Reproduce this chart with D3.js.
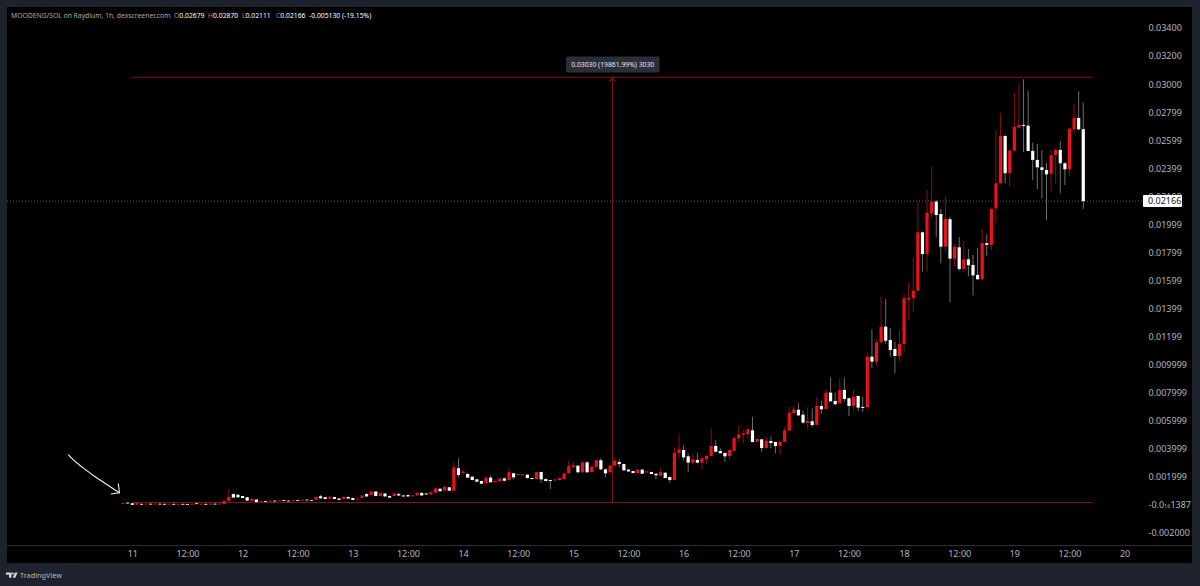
<!DOCTYPE html>
<html><head><meta charset="utf-8">
<script src="https://cdn.jsdelivr.net/npm/d3@7"></script>
<style>html,body{margin:0;padding:0;background:#1e222d;overflow:hidden}svg{display:block}text{font-family:"Noto Sans",sans-serif}</style>
</head><body><svg id="c" width="1200" height="586"></svg>
<script>
// Prices are in units of 0.00001 SOL; hour 0 is the 11th at 00:00.
const priceUnit = 1e-5, firstHour = -2;
const opens = [9,17,12,2,8,7,9,7,9,8,
6,8,6,8,7,5,12,7,8,7,
9,8,7,29,78,73,64,55,29,39,
24,28,25,31,29,34,31,29,35,32,
38,34,36,62,55,45,57,46,43,57,
50,43,50,78,71,96,64,82,64,64,
78,68,71,64,68,86,82,75,88,116,
102,126,102,262,228,221,202,183,171,155,
195,162,169,190,178,226,214,212,216,192,
185,235,185,178,175,178,185,226,269,280,
233,304,235,271,319,254,233,280,306,292,
253,242,228,252,232,235,223,209,230,200,
178,369,392,347,302,321,302,326,349,421,
385,371,349,385,475,501,506,532,451,468,
406,456,449,421,449,530,654,679,644,585,
597,570,706,684,801,741,725,820,761,706,
777,699,696,1057,1022,1160,1271,1176,1112,1062,
1148,1465,1474,1528,1944,1789,2079,2162,2074,1841,
2037,1756,1837,1682,1751,1711,1640,1609,1866,1854,
2115,2293,2630,2365,2526,2690,2709,2704,2524,2460,
2407,2388,2360,2493,2531,2436,2393,2678,2759,2679];
const closes = [14,11,1,14,6,9,7,9,7,6,
8,6,8,6,5,8,7,8,7,9,
8,10,29,57,53,55,50,31,43,21,
28,25,31,29,34,31,29,35,32,38,
34,31,57,48,43,59,43,36,57,46,
36,46,68,61,96,64,86,61,53,82,
68,61,61,68,86,68,75,93,119,98,
130,102,269,214,239,195,178,166,152,195,
162,171,190,173,235,197,221,219,192,185,
235,183,171,171,182,192,226,278,283,233,
304,233,273,319,254,226,280,314,292,247,
239,228,252,223,239,221,212,235,192,178,
373,397,340,302,326,302,333,351,421,380,
369,347,392,478,504,511,540,449,470,406,
458,442,421,451,532,658,682,639,587,599,
570,706,682,801,739,718,820,756,706,772,
694,692,1057,1022,1160,1271,1171,1105,1062,1148,
1474,1476,1528,1944,1789,2084,2162,2067,1841,2039,
1756,1841,1682,1751,1709,1637,1609,1866,1854,2110,
2293,2630,2365,2526,2697,2709,2702,2524,2460,2407,
2388,2357,2493,2531,2436,2393,2682,2759,2678,2166];
const highs = [16,18,13,15,10,11,11,11,11,10,
10,10,10,10,9,10,14,10,10,11,
11,12,30,114,82,78,66,57,46,41,
30,30,33,33,36,36,33,37,37,40,
40,36,60,72,58,61,60,48,64,66,
52,48,72,85,99,98,89,85,68,86,
88,71,74,71,90,92,84,95,122,119,
132,128,302,334,254,228,204,185,175,205,
210,173,192,195,264,230,224,221,219,195,
238,238,190,180,183,195,228,316,310,285,
310,310,278,325,335,260,283,332,325,295,
255,245,254,255,242,238,226,259,233,202,
411,503,424,369,360,373,335,355,545,460,
404,375,395,485,563,535,548,629,473,471,
487,487,452,454,558,700,706,725,672,696,
688,768,744,825,910,801,903,910,764,820,
780,772,1086,1252,1183,1484,1470,1260,1165,1241,
1510,1585,1759,2165,1950,2246,2412,2176,2110,2199,
2055,1860,1911,1880,1823,1782,1830,1967,1930,2120,
2673,2795,2640,2535,2935,3006,3035,2954,2583,2574,
2531,2438,2531,2540,2595,2445,2690,2862,2949,2870];
const lows = [8,10,0,1,5,6,6,6,6,5,
5,5,5,5,4,4,6,6,6,6,
7,7,5,28,50,52,48,29,27,20,
23,24,24,28,28,30,28,28,31,31,
33,30,33,45,40,43,40,33,40,43,
34,41,48,59,69,62,61,59,50,61,
66,59,59,61,66,66,73,73,86,96,
100,100,100,198,216,192,176,164,150,150,
160,160,166,171,176,183,212,210,190,183,
183,157,169,114,173,176,183,224,266,230,
230,230,233,269,250,197,230,278,271,245,
237,226,226,221,230,219,183,207,190,157,
176,330,316,237,290,297,250,293,347,377,
367,307,326,383,449,435,473,447,449,376,
404,404,369,358,447,528,652,635,580,540,
554,568,652,682,737,716,722,737,634,672,
670,664,694,975,990,1150,1150,1057,939,1022,
1093,1318,1379,1520,1663,1664,2043,1911,1722,1810,
1445,1699,1670,1660,1632,1494,1605,1600,1775,1818,
2008,2285,2293,2267,2515,2680,2515,2520,2317,2252,
2186,2032,2233,2293,2222,2281,2345,2643,2670,2111];

const priceTicks = [0.034,0.032,0.03,0.028,0.026,0.024,0.022,0.02,0.018,0.016,0.014,0.012,0.01,0.008,0.006,0.004,0.002,0,-0.002];
const priceLabels = ["0.03400","0.03200","0.03000","0.02799","0.02599","0.02399","0.02199","0.01999","0.01799","0.01599","0.01399","0.01199","0.009999","0.007999","0.005999","0.003999","0.001999","-0.0|16|1387","-0.002000"];
const timeTicks = [0,12,24,36,48,60,72,84,96,108,120,132,144,156,168,180,192,204,216];
const timeLabels = ["11","12:00","12","12:00","13","12:00","14","12:00","15","12:00","16","12:00","17","12:00","18","12:00","19","12:00","20"];
const lastPrice = 0.02166, lastLabel = "0.02166";
const measureHigh = 0.03049, measureLow = 0.00018, measureHour = 104.5, measureStart = 0, measureEnd = 209.2;
const measureText = "0.03030 (19861.99%) 3030";
const titleText = "MOODENG/SOL on Raydium, 1h, dexscreener.com";
const ohlcLabels = [["O","0.02679"],["H","0.02870"],["L","0.02111"],["C","0.02166"]];
const changeText = "-0.005130 (-19.15%)";

const W=1200,H=586, plotL=7,plotR=1192,plotT=7,plotB=563,axisY=545;
const svg=d3.select("#c");
const x=d3.scaleLinear().domain([0,216]).range([132.3,1124.6]);
const y=d3.scaleLinear().domain([-0.002,0.034]).range([533.06,28]);

svg.append("rect").attr("width",W).attr("height",H).attr("fill","#1e222d");
svg.append("rect").attr("x",plotL).attr("y",plotT).attr("width",plotR-plotL).attr("height",plotB-plotT).attr("fill","#000");

// Last price line
svg.append("line").attr("x1",plotL).attr("x2",1143).attr("y1",y(lastPrice)).attr("y2",y(lastPrice))
  .attr("stroke","#777").attr("stroke-width",.8).attr("stroke-dasharray","1 2");

// Candles
const candles=d3.range(opens.length).map(i=>({h:firstHour+i,o:opens[i]*priceUnit,c:closes[i]*priceUnit,hi:highs[i]*priceUnit,lo:lows[i]*priceUnit}));
const up=d=>d.c>=d.o;

// Measure lines
const mc="#8a0f18";
const mg=svg.append("g").attr("stroke",mc).attr("stroke-width",1.1).attr("fill","none");
mg.append("line").attr("x1",x(measureStart)).attr("x2",x(measureEnd)).attr("y1",y(measureHigh)).attr("y2",y(measureHigh));
mg.append("line").attr("x1",x(measureStart)).attr("x2",x(measureEnd)).attr("y1",y(measureLow)).attr("y2",y(measureLow));
mg.append("line").attr("x1",x(measureHour)).attr("x2",x(measureHour)).attr("y1",y(measureHigh)).attr("y2",y(measureLow));
mg.append("path").attr("d",`M${x(measureHour)-3},${y(measureHigh)+4}L${x(measureHour)},${y(measureHigh)+1}L${x(measureHour)+3},${y(measureHigh)+4}`);

const cg=svg.append("g");
cg.selectAll("line").data(candles).join("line")
  .attr("x1",d=>x(d.h)).attr("x2",d=>x(d.h)).attr("y1",d=>y(d.hi)).attr("y2",d=>y(d.lo))
  .attr("stroke",d=>up(d)?"#8a0f18":"#6e6e6e").attr("stroke-width",1);
cg.selectAll("rect").data(candles).join("rect")
  .attr("x",d=>x(d.h)-1.6).attr("width",3.2)
  .attr("y",d=>Math.min(y(d.o),y(d.c)))
  .attr("height",d=>Math.max(.8,Math.abs(y(d.o)-y(d.c))))
  .attr("fill",d=>up(d)?"#ee0f1f":"#ffffff");

// Measure badge
svg.append("rect").attr("x",566).attr("y",56.5).attr("width",93.5).attr("height",16).attr("rx",2).attr("fill","#2a2e39");
svg.append("text").attr("x",612.7).attr("y",67).attr("text-anchor","middle").attr("font-size",6.8).attr("fill","#e6e8ee").text(measureText);

// Price axis
const axisR=d3.axisRight(y).tickValues(priceTicks).tickSize(0).tickPadding(0).tickFormat((d,i)=>priceLabels[i]);
const gy=svg.append("g").attr("transform","translate(1148.5,0)").call(axisR);
gy.select(".domain").remove();
gy.selectAll("text").attr("fill","#b2b5be").attr("font-size",9).attr("font-family",'"Noto Sans",sans-serif')
  .each(function(d,i){
    const p=priceLabels[i].split("|");
    if(p.length===3){const t=d3.select(this).text("");
      t.append("tspan").text(p[0]);
      t.append("tspan").attr("font-size",5.5).text(p[1]);
      t.append("tspan").text(p[2]);}
  });

// Last price tag
svg.append("rect").attr("x",1143).attr("y",y(lastPrice)-6).attr("width",39).attr("height",12).attr("rx",1).attr("fill","#fff");
svg.append("text").attr("x",1148).attr("y",y(lastPrice)+3.2).attr("font-size",9).attr("fill","#131722").text(lastLabel);

// Time axis
svg.append("line").attr("x1",plotL).attr("x2",plotR).attr("y1",axisY+.5).attr("y2",axisY+.5).attr("stroke","#2a2e39");
const axisB=d3.axisBottom(x).tickValues(timeTicks).tickSize(0).tickPadding(0).tickFormat((d,i)=>timeLabels[i]);
const gx=svg.append("g").attr("transform",`translate(0,${axisY+6})`).call(axisB);
gx.select(".domain").remove();
gx.selectAll("text").attr("fill","#b2b5be").attr("font-size",9).attr("font-family",'"Noto Sans",sans-serif');

// Legend
const lg=svg.append("g").attr("font-size",6.8);
lg.append("text").attr("x",11).attr("y",18).attr("fill","#a9acb5").text(titleText);
[174,208,242,276].forEach((px,i)=>{
  const t=lg.append("text").attr("x",px).attr("y",18);
  t.append("tspan").attr("fill","#8f929b").text(ohlcLabels[i][0]);
  t.append("tspan").attr("fill","#ffffff").text(ohlcLabels[i][1]);
});
lg.append("text").attr("x",309).attr("y",18).attr("fill","#ffffff").text(changeText);

// Hand-drawn arrow
svg.append("path").attr("d","M68.3,454.7C76,464 84,468 93.3,475.5C103,482 112,488 119.3,492.7")
  .attr("fill","none").attr("stroke","#f2f2f2").attr("stroke-width",1.1);
svg.append("path").attr("d","M118.3,483.5L119.5,492.7L111,494")
  .attr("fill","none").attr("stroke","#f2f2f2").attr("stroke-width",1.1);

// TradingView mark
svg.append("path").attr("fill","#d1d4dc")
  .attr("d","M6,572.5h5.5v5.2H9v-3H6zM15,572.5h2.6l-2.3,5.2h-2.6z");
svg.append("circle").attr("cx",12.8).attr("cy",573.6).attr("r",1.1).attr("fill","#d1d4dc");
svg.append("text").attr("x",20).attr("y",578).attr("font-size",7.3).attr("fill","#b2b5be").text("TradingView");
</script></body></html>
